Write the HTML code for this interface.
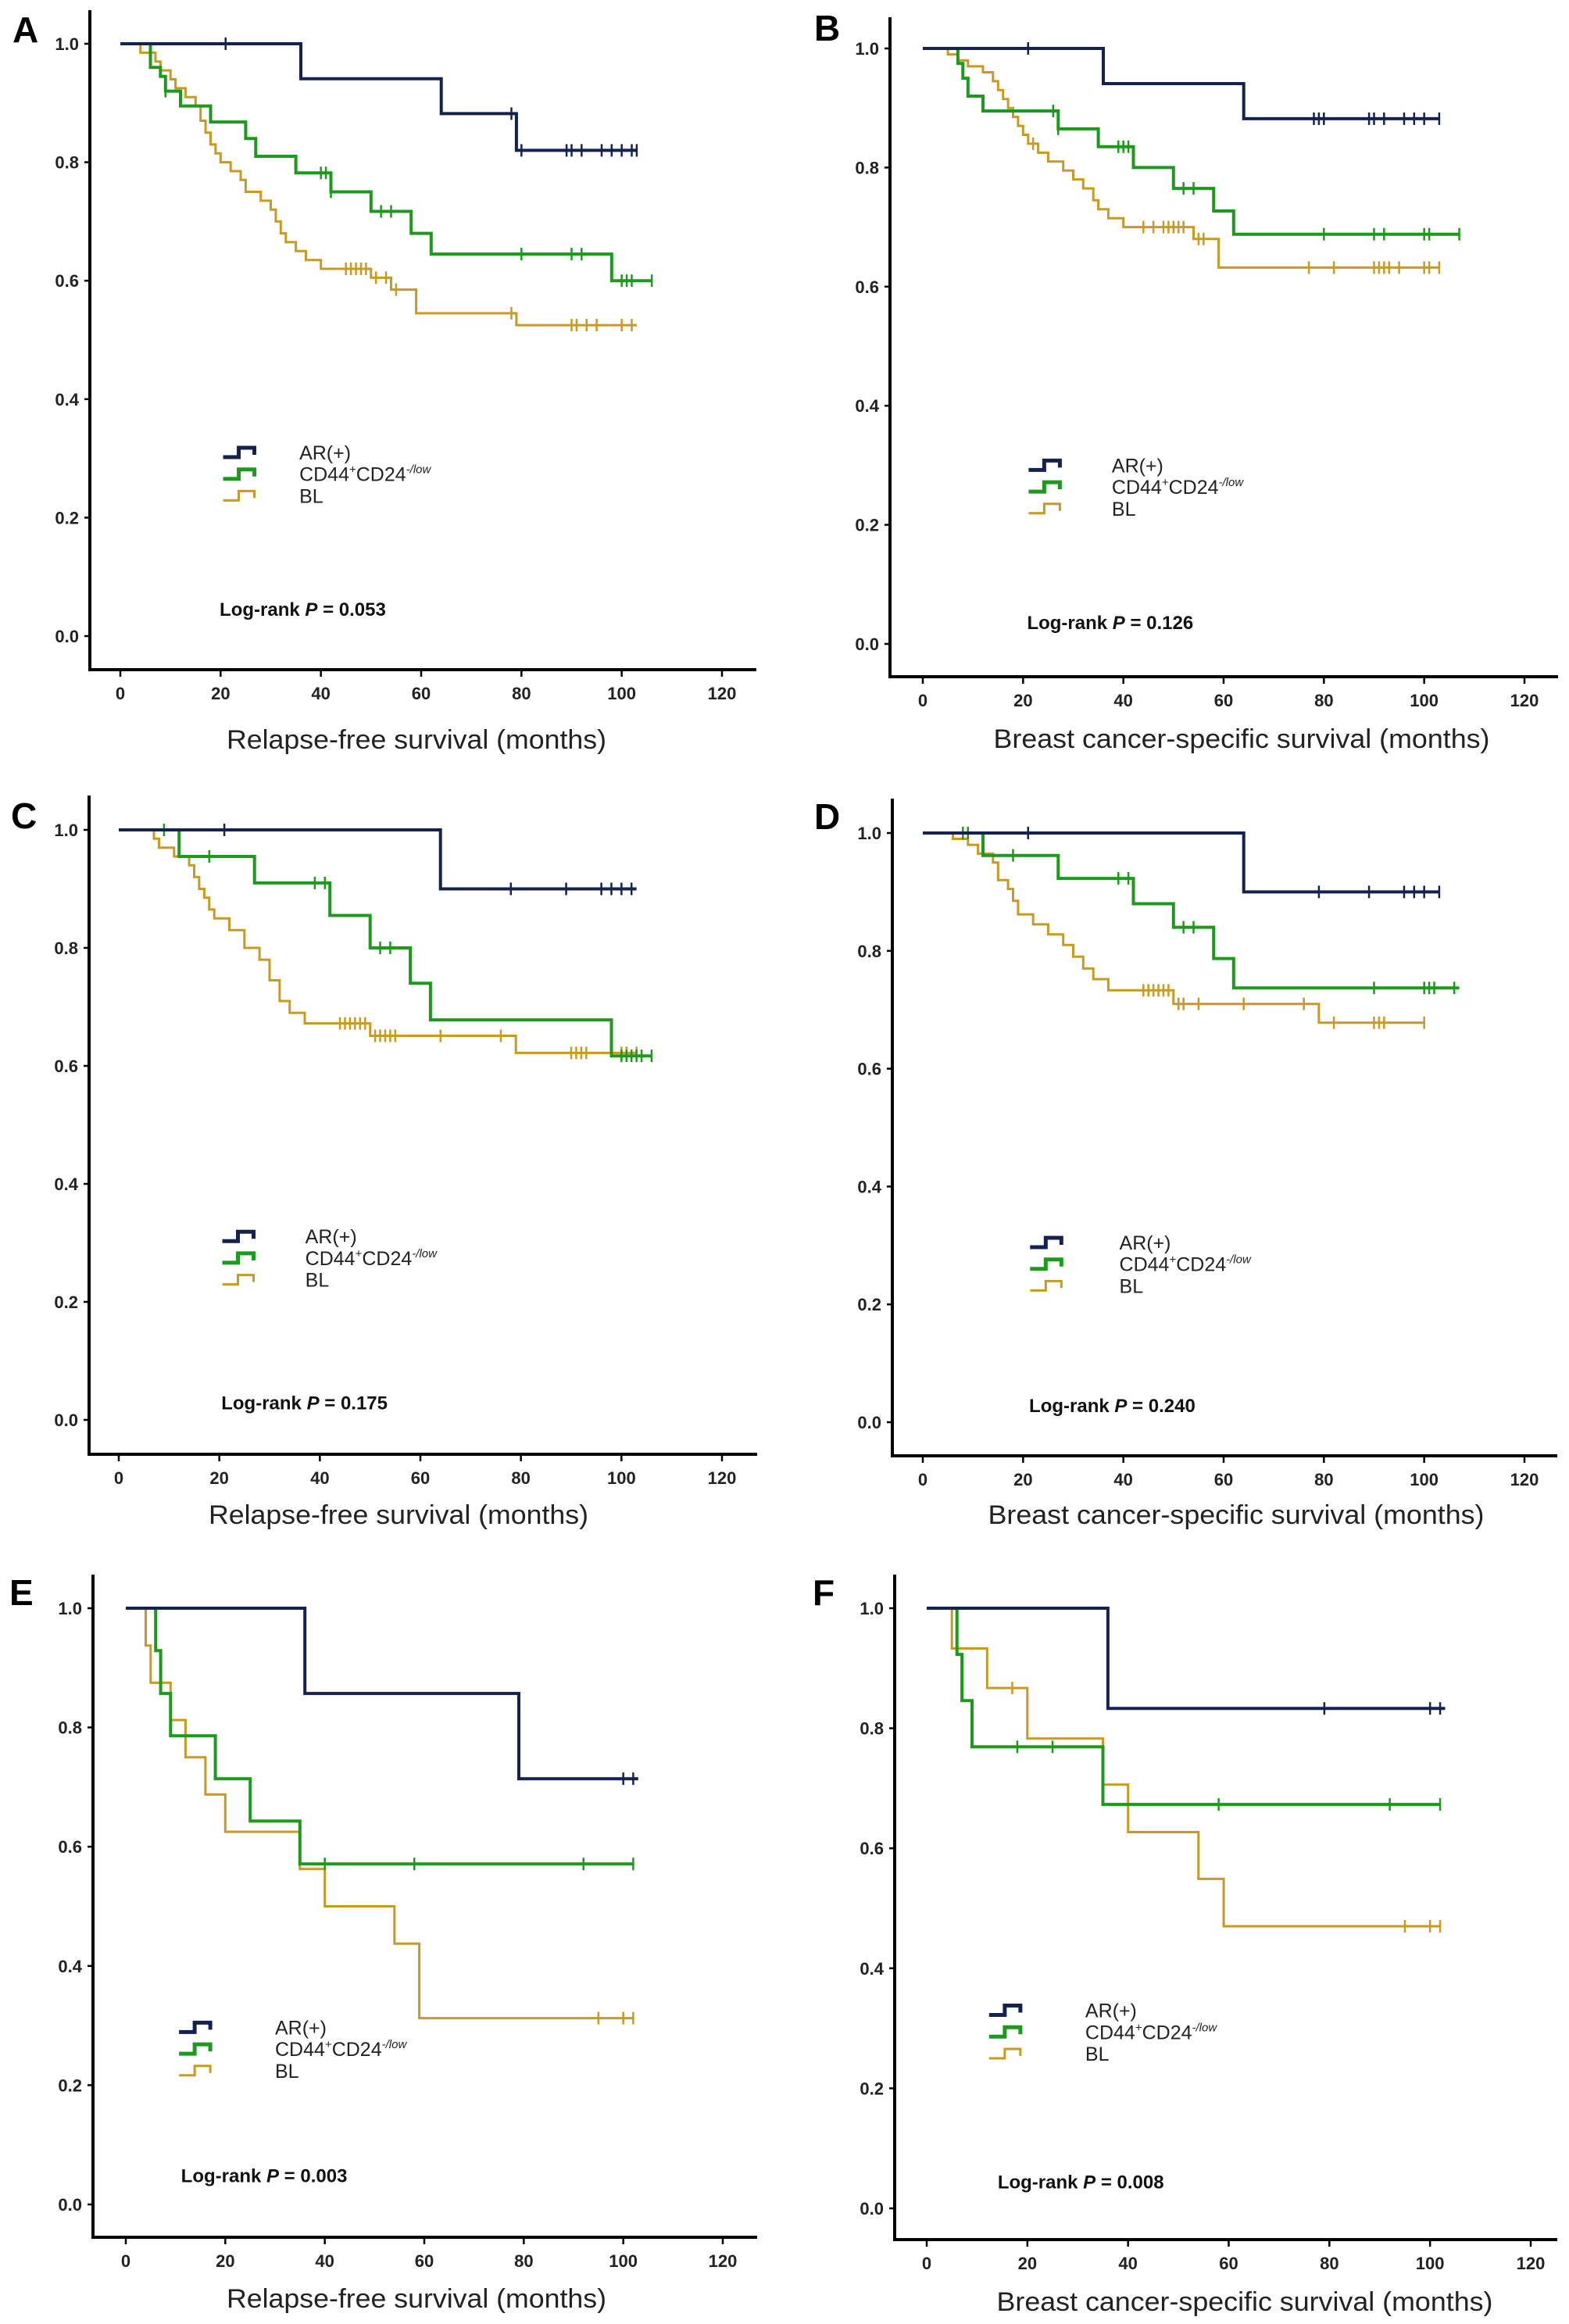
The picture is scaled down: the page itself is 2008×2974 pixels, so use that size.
<!DOCTYPE html>
<html><head><meta charset="utf-8"><title>Kaplan-Meier survival curves, panels A to F</title>
<style>
html,body{margin:0;padding:0;background:#fff;}
svg{display:block;font-family:"Liberation Sans",Arial,sans-serif;}
</style></head>
<body>
<svg id="fig" width="2008" height="2974" viewBox="0 0 2008 2974" xmlns="http://www.w3.org/2000/svg">
<rect x="0" y="0" width="2008" height="2974" fill="#fff"/>
</svg>
<script>
// ---------- data (months, survival proportion) ----------
const xTicks = [0,20,40,60,80,100,120];
const yTicks = [0.0,0.2,0.4,0.6,0.8,1.0];
const yTickLabels = ["0.0","0.2","0.4","0.6","0.8","1.0"];
const seriesNames = ["AR(+)","CD44+CD24-/low","BL"];

// Panel A
const aArTimes = [36,64,79];
const aArSurv = [0.941,0.882,0.82];
const aArCens = [21,78,80,89,90,92,96,98,100,102,103];
const aArEnd = 103;
const aGrTimes = [6,8,9,12,18,25,27,35,42,50,58,62,98];
const aGrSurv = [0.96,0.945,0.92,0.895,0.868,0.84,0.81,0.782,0.75,0.717,0.68,0.645,0.60];
const aGrCens = [9,40,41,42,52,54,80,90,92,100,101,102,106];
const aGrEnd = 106;
const aBlTimes = [4,7,8,10,11,13,15,16,17,18,19,20,22,24,25,28,30,31,32,33,35,37,40,50,54,59,79];
const aBlSurv = [0.985,0.97,0.955,0.94,0.925,0.91,0.895,0.87,0.85,0.83,0.815,0.80,0.785,0.77,0.75,0.735,0.72,0.70,0.68,0.665,0.65,0.635,0.62,0.605,0.585,0.545,0.525];
const aBlCens = [45,46,47,48,49,51,53,55,78,90,91,93,95,100,102];
const aBlEnd = 103;

// Panel B
const bArTimes = [36,64];
const bArSurv = [0.941,0.882];
const bArCens = [21,78,79,80,89,90,92,96,98,100,103];
const bArEnd = 103;
const bGrTimes = [7,8,9,12,27,35,42,50,58,62];
const bGrSurv = [0.975,0.95,0.92,0.895,0.865,0.835,0.80,0.765,0.727,0.688];
const bGrCens = [26,27,39,40,41,52,54,80,90,92,100,101,107];
const bGrEnd = 107;
const bBlTimes = [5,7,9,12,14,15,16,17,18,19,20,21,23,25,28,30,32,34,35,37,40,54,59];
const bBlSurv = [0.99,0.98,0.97,0.96,0.945,0.93,0.915,0.90,0.885,0.87,0.855,0.84,0.825,0.81,0.795,0.78,0.765,0.745,0.73,0.715,0.70,0.68,0.632];
const bBlCens = [22,44,46,48,49,50,51,52,55,56,77,82,90,91,92,93,95,100,101,103];
const bBlEnd = 103;

// Panel C
const cArTimes = [64];
const cArSurv = [0.90];
const cArCens = [21,78,89,96,98,100,102];
const cArEnd = 103;
const cGrTimes = [12,27,42,50,58,62,98];
const cGrSurv = [0.955,0.91,0.855,0.80,0.74,0.678,0.617];
const cGrCens = [9,18,39,41,52,54,100,101,102,103,104,106];
const cGrEnd = 106;
const cBlTimes = [7,8,11,14,15,16,17,18,19,22,25,28,30,32,34,37,50,79];
const cBlSurv = [0.985,0.97,0.955,0.94,0.92,0.90,0.885,0.865,0.85,0.83,0.80,0.78,0.745,0.71,0.69,0.672,0.651,0.622];
const cBlCens = [44,45,46,47,48,49,51,52,53,54,55,64,76,90,91,92,93,100,101,103];
const cBlEnd = 103;

// Panel D
const dArTimes = [64];
const dArSurv = [0.90];
const dArCens = [21,79,89,96,98,100,103];
const dArEnd = 103;
const dGrTimes = [12,27,42,50,58,62];
const dGrSurv = [0.962,0.923,0.88,0.84,0.787,0.737];
const dGrCens = [8,9,18,39,41,52,54,90,100,101,102,106];
const dGrEnd = 107;
const dBlTimes = [6,9,11,14,15,17,18,19,22,25,28,30,32,34,37,50,79];
const dBlSurv = [0.99,0.98,0.965,0.95,0.92,0.905,0.885,0.862,0.845,0.828,0.81,0.79,0.77,0.752,0.733,0.71,0.678];
const dBlCens = [44,45,46,47,48,49,51,52,55,64,76,82,90,91,92,100];
const dBlEnd = 100;

// Panel E
const eArTimes = [36,79];
const eArSurv = [0.857,0.714];
const eArCens = [100,102];
const eArEnd = 103;
const eGrTimes = [6,7,9,18,25,35];
const eGrSurv = [0.929,0.857,0.786,0.714,0.643,0.571];
const eGrCens = [40,58,92,102];
const eGrEnd = 102;
const eBlTimes = [4,5,9,12,16,20,35,40,54,59];
const eBlSurv = [0.9375,0.875,0.8125,0.75,0.6875,0.625,0.5625,0.50,0.4375,0.3125];
const eBlCens = [95,100,102];
const eBlEnd = 102;

// Panel F
const fArTimes = [36];
const fArSurv = [0.833];
const fArCens = [79,100,102];
const fArEnd = 103;
const fGrTimes = [6,7,9,35];
const fGrSurv = [0.923,0.846,0.769,0.673];
const fGrCens = [18,25,58,92,102];
const fGrEnd = 102;
const fBlTimes = [5,12,20,35,40,54,59];
const fBlSurv = [0.933,0.867,0.783,0.706,0.627,0.549,0.47];
const fBlCens = [17,95,100,102];
const fBlEnd = 102;

const pValues = ["0.053","0.126","0.175","0.240","0.003","0.008"];
const xTitles = ["Relapse-free survival (months)","Breast cancer-specific survival (months)","Relapse-free survival (months)","Breast cancer-specific survival (months)","Relapse-free survival (months)","Breast cancer-specific survival (months)"];

// ---------- layout ----------
const panels = [
 {id:"a",letter:"A",lx:16,ly:54,axX:115,axTop:13,axY:857,axR:968,x0:154,x120:924,y1:56,y0:814,legT:20.5,legY:0.31,txtT:35.7,lrT:19.8,lrY:0.046,tw:486,tcx:533,tby:958,
  series:[[aArTimes,aArSurv,aArCens,aArEnd],[aGrTimes,aGrSurv,aGrCens,aGrEnd],[aBlTimes,aBlSurv,aBlCens,aBlEnd]]},
 {id:"b",letter:"B",lx:1042,ly:52,axX:1139,axTop:22,axY:866,axR:1994,x0:1181,x120:1951,y1:62,y0:824,legT:21.1,legY:0.30,txtT:37.7,lrT:20.8,lrY:0.037,tw:635,tcx:1589,tby:957,
  series:[[bArTimes,bArSurv,bArCens,bArEnd],[bGrTimes,bGrSurv,bGrCens,bGrEnd],[bBlTimes,bBlSurv,bBlCens,bBlEnd]]},
 {id:"c",letter:"C",lx:14,ly:1060,axX:114,axTop:1018,axY:1861,axR:969,x0:152,x120:924,y1:1062,y0:1817,legT:20.6,legY:0.311,txtT:37.1,lrT:20.4,lrY:0.03,tw:486,tcx:510,tby:1950,
  series:[[cArTimes,cArSurv,cArCens,cArEnd],[cGrTimes,cGrSurv,cGrCens,cGrEnd],[cBlTimes,cBlSurv,cBlCens,cBlEnd]]},
 {id:"d",letter:"D",lx:1042,ly:1061,axX:1142,axTop:1022,axY:1863,axR:1993,x0:1181,x120:1951,y1:1066,y0:1820,legT:21.4,legY:0.305,txtT:39.2,lrT:21.2,lrY:0.029,tw:635,tcx:1582,tby:1950,
  series:[[dArTimes,dArSurv,dArCens,dArEnd],[dGrTimes,dGrSurv,dGrCens,dGrEnd],[dBlTimes,dBlSurv,dBlCens,dBlEnd]]},
 {id:"e",letter:"E",lx:12,ly:2054,axX:119,axTop:2015,axY:2863,axR:969,x0:161,x120:925,y1:2058,y0:2821,legT:10.7,legY:0.297,txtT:30,lrT:11.1,lrY:0.049,tw:486,tcx:533,tby:2953,
  series:[[eArTimes,eArSurv,eArCens,eArEnd],[eGrTimes,eGrSurv,eGrCens,eGrEnd],[eBlTimes,eBlSurv,eBlCens,eBlEnd]]},
 {id:"f",letter:"F",lx:1040,ly:2054,axX:1145,axTop:2015,axY:2866,axR:1993,x0:1186,x120:1959,y1:2058,y0:2826,legT:12.4,legY:0.33,txtT:31.5,lrT:14.1,lrY:0.045,tw:635,tcx:1593,tby:2957,
  series:[[fArTimes,fArSurv,fArCens,fArEnd],[fGrTimes,fGrSurv,fGrCens,fGrEnd],[fBlTimes,fBlSurv,fBlCens,fBlEnd]]}
];
const colors = ["#13224f","#1d9a1d","#c99a22"];
const widths = [4,4,3];
const seriesKeys = ["ar","cd44","bl"];

const NS = "http://www.w3.org/2000/svg";
const svg = document.getElementById("fig");
function mk(tag, attrs, parent){ const e=document.createElementNS(NS,tag); for(const k in attrs) e.setAttribute(k,attrs[k]); (parent||svg).appendChild(e); return e; }
function X(p,t){ return p.x0 + (p.x120-p.x0)*t/120; }
function Y(p,v){ return p.y0 - (p.y0-p.y1)*v; }
function survAt(times,surv,t){ let s=1; for(let i=0;i<times.length;i++){ if(times[i]<=t) s=surv[i]; } return s; }

panels.forEach((p,pi)=>{
  const g = mk("g",{});
  
  

  const letter = mk("text",{x:p.lx,y:p.ly,"font-size":46,"font-weight":"bold",fill:"#000"},g);
  letter.textContent = p.letter;
  
  

  const yAxis = mk("line",{x1:p.axX,y1:p.axTop,x2:p.axX,y2:p.axY+2,stroke:"#000","stroke-width":4},g);
  
  
  const xAxis = mk("line",{x1:p.axX-2,y1:p.axY,x2:p.axR,y2:p.axY,stroke:"#000","stroke-width":4},g);
  
  

  yTicks.forEach((v,i)=>{
    const yy=Y(p,v);
    mk("line",{x1:p.axX-7,y1:yy,x2:p.axX,y2:yy,stroke:"#000","stroke-width":2.5},g);
    const t=mk("text",{x:p.axX-14,y:yy+8,"font-size":22,"font-weight":"bold","text-anchor":"end",fill:"#222"},g);
    t.textContent=yTickLabels[i];
    
    
  });
  xTicks.forEach(v=>{
    const xx=X(p,v);
    mk("line",{x1:xx,y1:p.axY,x2:xx,y2:p.axY+9,stroke:"#000","stroke-width":2.5},g);
    const t=mk("text",{x:xx,y:p.axY+38,"font-size":22,"font-weight":"bold","text-anchor":"middle",fill:"#222"},g);
    t.textContent=String(v);
    
    
  });

  const xt = mk("text",{x:p.tcx,y:p.tby,"font-size":34,"text-anchor":"middle",fill:"#222",textLength:p.tw,lengthAdjust:"spacingAndGlyphs"},g);
  xt.textContent = xTitles[pi];
  
  

  [2,1,0].forEach(si=>{
    const [times,surv,cens,end] = p.series[si];
    let d=`M${X(p,0)},${Y(p,1)}`;
    times.forEach((t,i)=>{ d+=` H${X(p,t).toFixed(1)} V${Y(p,surv[i]).toFixed(1)}`; });
    d+=` H${X(p,end).toFixed(1)}`;
    const path = mk("path",{d:d,fill:"none",stroke:colors[si],"stroke-width":widths[si]},g);
    
    
    cens.forEach(c=>{
      const s=survAt(times,surv,c);
      const cx=X(p,c), cy=Y(p,s);
      const m=mk("line",{x1:cx,y1:cy-8,x2:cx,y2:cy+8,stroke:colors[si],"stroke-width":2.5},g);
      
      
    });
  });

  const lg = mk("g",{},g);
  
  
  const sx = X(p,p.legT), sw = 40;
  const tx = X(p,p.txtT);
  const ry0 = Y(p,p.legY);
  seriesNames.forEach((n,si)=>{
    const ry = ry0 + si*27.7;
    const sym = mk("path",{d:`M${sx},${ry+6} H${sx+sw*0.5} V${ry-6} H${sx+sw} V${ry+3}`,fill:"none",stroke:colors[si],"stroke-width":si===2?3:5},lg);
    
    
    const t = mk("text",{x:tx,y:ry+9,"font-size":25,fill:"#222"},lg);
    
    
    if(si===1){
      const a=mk("tspan",{},t); a.textContent="CD44";
      const b=mk("tspan",{"font-size":15,dy:-10},t); b.textContent="+";
      const c=mk("tspan",{dy:10},t); c.textContent="CD24";
      const d2=mk("tspan",{"font-size":15,dy:-10,"font-style":"italic"},t); d2.textContent="-/low";
    } else {
      t.textContent=n;
    }
  });

  const lr = mk("text",{x:X(p,p.lrT),y:Y(p,p.lrY)+9,"font-size":24,"font-weight":"bold",fill:"#111"},g);
  
  
  const l1=mk("tspan",{},lr); l1.textContent="Log-rank ";
  const l2=mk("tspan",{"font-style":"italic"},lr); l2.textContent="P";
  const l3=mk("tspan",{},lr); l3.textContent=" = "+pValues[pi];
});
</script>
</body></html>
